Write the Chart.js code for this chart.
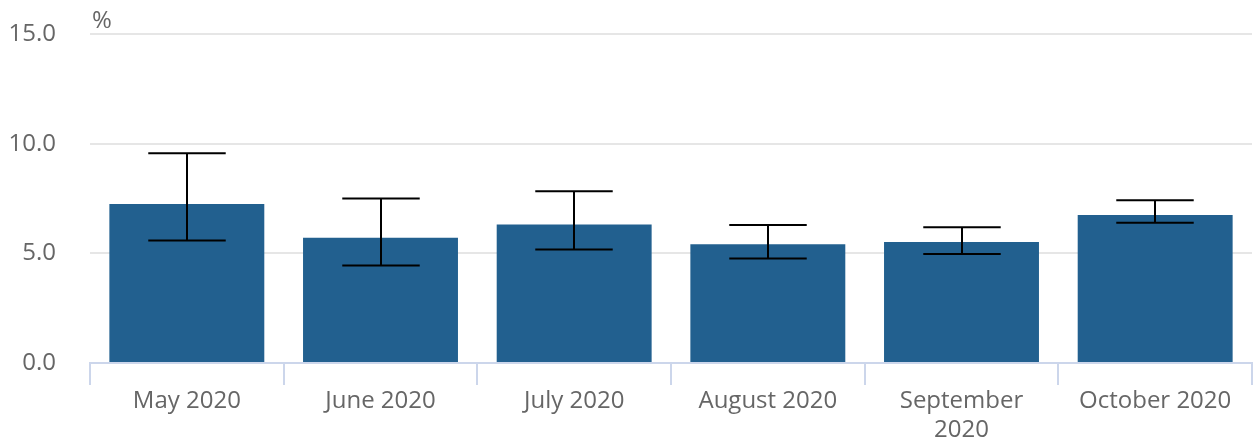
<!DOCTYPE html>
<html>
<head>
<meta charset="utf-8">
<script src="https://cdn.jsdelivr.net/npm/chart.js@4"></script>
<style>
  html, body { margin: 0; padding: 0; background: #fff; }
  #wrap { width: 1254px; height: 443px; }
</style>
</head>
<body>
<div id="wrap"><canvas id="chart"></canvas></div>
<script>
const months = ['May 2020', 'June 2020', 'July 2020', 'August 2020', ['September', '2020'], 'October 2020'];
const values = [7.25, 5.71, 6.32, 5.41, 5.52, 6.75];
const lower = [5.58, 4.44, 5.17, 4.76, 4.97, 6.40];
const upper = [9.56, 7.50, 7.83, 6.29, 6.19, 7.42];
const yTicks = [0, 5, 10, 15];

const errorBars = {
  id: 'errorBars',
  afterDatasetsDraw(chart) {
    const ctx = chart.ctx;
    const x = chart.scales.x;
    const y = chart.scales.y;
    const half = (x.getPixelForValue(1) - x.getPixelForValue(0)) * 0.2;
    ctx.save();
    ctx.strokeStyle = '#000';
    ctx.lineWidth = 2;
    values.forEach((v, i) => {
      const cx = Math.round(x.getPixelForValue(i));
      const top = y.getPixelForValue(upper[i]);
      const bot = y.getPixelForValue(lower[i]);
      ctx.beginPath();
      ctx.moveTo(cx, top);
      ctx.lineTo(cx, bot);
      ctx.moveTo(cx - half, top);
      ctx.lineTo(cx + half, top);
      ctx.moveTo(cx - half, bot);
      ctx.lineTo(cx + half, bot);
      ctx.stroke();
    });
    ctx.restore();
  }
};

const unitLabel = {
  id: 'unitLabel',
  afterDraw(chart) {
    const ctx = chart.ctx;
    ctx.save();
    ctx.fillStyle = '#666666';
    ctx.font = '24px "Open Sans"';
    ctx.textAlign = 'left';
    ctx.textBaseline = 'alphabetic';
    ctx.fillText('%', chart.chartArea.left + 2, 28);
    ctx.restore();
  }
};

new Chart(document.getElementById('chart'), {
  type: 'bar',
  data: {
    labels: months,
    datasets: [{
      data: values,
      backgroundColor: '#22608f',
      barPercentage: 0.8,
      categoryPercentage: 1
    }]
  },
  options: {
    responsive: true,
    maintainAspectRatio: false,
    animation: false,
    layout: { padding: { left: 8, right: 2, top: 34, bottom: 0 } },
    plugins: {
      legend: { display: false },
      tooltip: { enabled: false }
    },
    scales: {
      x: {
        grid: { drawOnChartArea: false, color: '#ccd6eb', tickLength: 22, lineWidth: 2 },
        border: { color: '#ccd6eb', width: 2 },
        ticks: {
          color: '#666666',
          font: { family: 'Open Sans', size: 24 },
          padding: 2,
          maxRotation: 0,
          autoSkip: false
        },
        afterFit(scale) { scale.height = 80; }
      },
      y: {
        min: 0,
        max: 15,
        afterBuildTicks(scale) { scale.ticks = yTicks.map(v => ({ value: v })); },
        grid: { color: '#e6e6e6', lineWidth: 2, drawTicks: false },
        border: { display: false },
        ticks: {
          color: '#666666',
          font: { family: 'Open Sans', size: 24 },
          padding: 34,
          callback: v => v.toFixed(1)
        },
        afterFit(scale) {
          scale.width = 82;
          scale.paddingTop = 0;
          scale.paddingBottom = 0;
        }
      }
    }
  },
  plugins: [errorBars, unitLabel]
});
</script>
</body>
</html>
